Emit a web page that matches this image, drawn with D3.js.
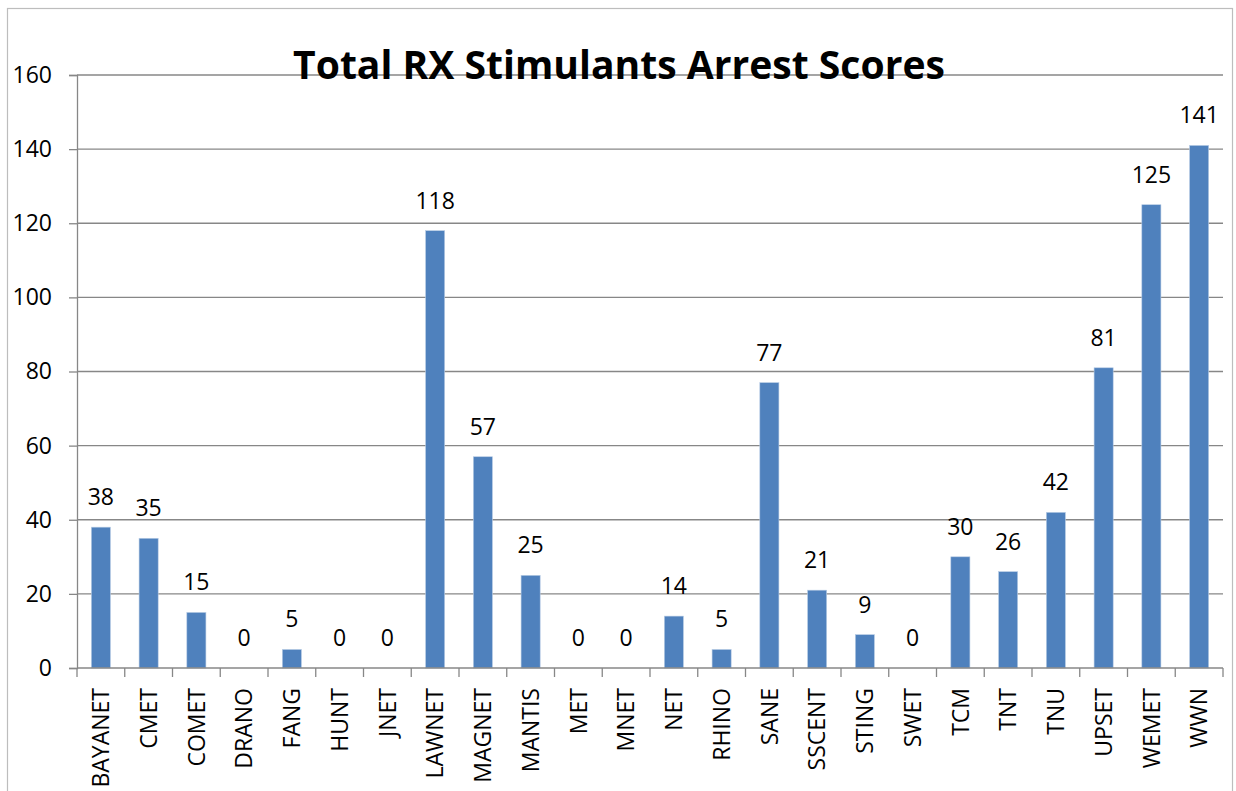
<!DOCTYPE html>
<html>
<head>
<meta charset="utf-8">
<script src="https://d3js.org/d3.v7.min.js"></script>
<style>
  body { margin: 0; background: #fff; }
  text { font-family: "Open Sans", sans-serif; fill: #000; }
</style>
</head>
<body>
<div id="chart"></div>
<script>

// data
const units = ["BAYANET", "CMET", "COMET", "DRANO", "FANG", "HUNT", "JNET", "LAWNET",
  "MAGNET", "MANTIS", "MET", "MNET", "NET", "RHINO", "SANE", "SSCENT", "STING", "SWET",
  "TCM", "TNT", "TNU", "UPSET", "WEMET", "WWN"];
const scores = [38, 35, 15, 0, 5, 0, 0, 118, 57, 25, 0, 0, 14, 5, 77, 21, 9, 0, 30, 26, 42, 81, 125, 141];
const yTicks = [0, 20, 40, 60, 80, 100, 120, 140, 160];
const title = "Total RX Stimulants Arrest Scores";

const W = 1236, H = 791;
const margin = {top: 75, right: 13, bottom: 123, left: 77};
const width = W - margin.left - margin.right,
    height = H - margin.top - margin.bottom;

const svg = d3.select("#chart")
  .append("svg")
    .attr("width", W)
    .attr("height", H);

// outer chart border (runs off the bottom of the picture)
svg.append("rect")
    .attr("x", 7.5).attr("y", 8.5)
    .attr("width", 1225).attr("height", 800)
    .attr("fill", "none")
    .attr("stroke", "#bdbdbd")
    .attr("stroke-width", 1.2);

const g = svg.append("g")
    .attr("transform", `translate(${margin.left},${margin.top})`);

const x = d3.scaleBand()
    .domain(units)
    .range([0, width]);

const y = d3.scaleLinear()
    .domain([0, 160])
    .range([height, 0]);

const barW = x.bandwidth() * 0.4;

// gridlines + y axis
const yAxis = g.append("g")
    .call(d3.axisLeft(y).tickValues(yTicks).tickSize(8).tickPadding(17));
yAxis.select(".domain").attr("stroke", "#878787").attr("stroke-width", 1.3);
yAxis.selectAll(".tick line").attr("stroke", "#878787").attr("stroke-width", 1.3);
yAxis.selectAll(".tick text")
    .style("font-family", "'Open Sans', sans-serif")
    .style("font-size", "23px")
    .attr("fill", "#000");

g.append("g")
  .selectAll("line")
  .data(yTicks.filter(t => t > 0))
  .join("line")
    .attr("x1", 0).attr("x2", width)
    .attr("y1", d => y(d)).attr("y2", d => y(d))
    .attr("stroke", "#878787")
    .attr("stroke-width", 1.3);

// bars
g.append("g")
  .selectAll("rect")
  .data(units)
  .join("rect")
    .attr("x", (d) => x(d) + (x.bandwidth() - barW) / 2)
    .attr("y", (d, i) => y(scores[i]))
    .attr("width", barW)
    .attr("height", (d, i) => y(0) - y(scores[i]))
    .attr("fill", "#4f81bd")
    .attr("stroke", "#b9cde5")
    .attr("stroke-width", 0.6);

// x axis with ticks on band boundaries
const xAxis = g.append("g")
    .attr("transform", `translate(0,${height})`);
xAxis.append("line")
    .attr("x1", 0).attr("x2", width)
    .attr("stroke", "#878787").attr("stroke-width", 1.3);
xAxis.selectAll(".bt")
  .data(d3.range(units.length + 1))
  .join("line")
    .attr("class", "bt")
    .attr("x1", i => i * x.step()).attr("x2", i => i * x.step())
    .attr("y1", 0).attr("y2", 9)
    .attr("stroke", "#878787").attr("stroke-width", 1.3);
xAxis.selectAll("text")
  .data(units)
  .join("text")
    .attr("transform", d => `translate(${x(d) + x.bandwidth() / 2},20) rotate(-90)`)
    .attr("text-anchor", "end")
    .attr("dy", "0.36em")
    .style("font-size", "23px")
    .text(d => d);

// value labels
g.append("g")
  .selectAll("text")
  .data(units)
  .join("text")
    .attr("x", d => x(d) + x.bandwidth() / 2)
    .attr("y", (d, i) => y(scores[i]) - 22)
    .attr("text-anchor", "middle")
    .style("font-size", "23px")
    .text((d, i) => scores[i]);

// title, sized to the width it takes in the original
const t = svg.append("text")
    .attr("x", 619)
    .attr("y", 79)
    .attr("text-anchor", "middle")
    .style("font-weight", "bold")
    .style("font-size", "40px")
    .text(title);
const tw = t.node().getComputedTextLength();
t.style("font-size", (40 * 653 / tw).toFixed(1) + "px");

</script>
</body>
</html>
